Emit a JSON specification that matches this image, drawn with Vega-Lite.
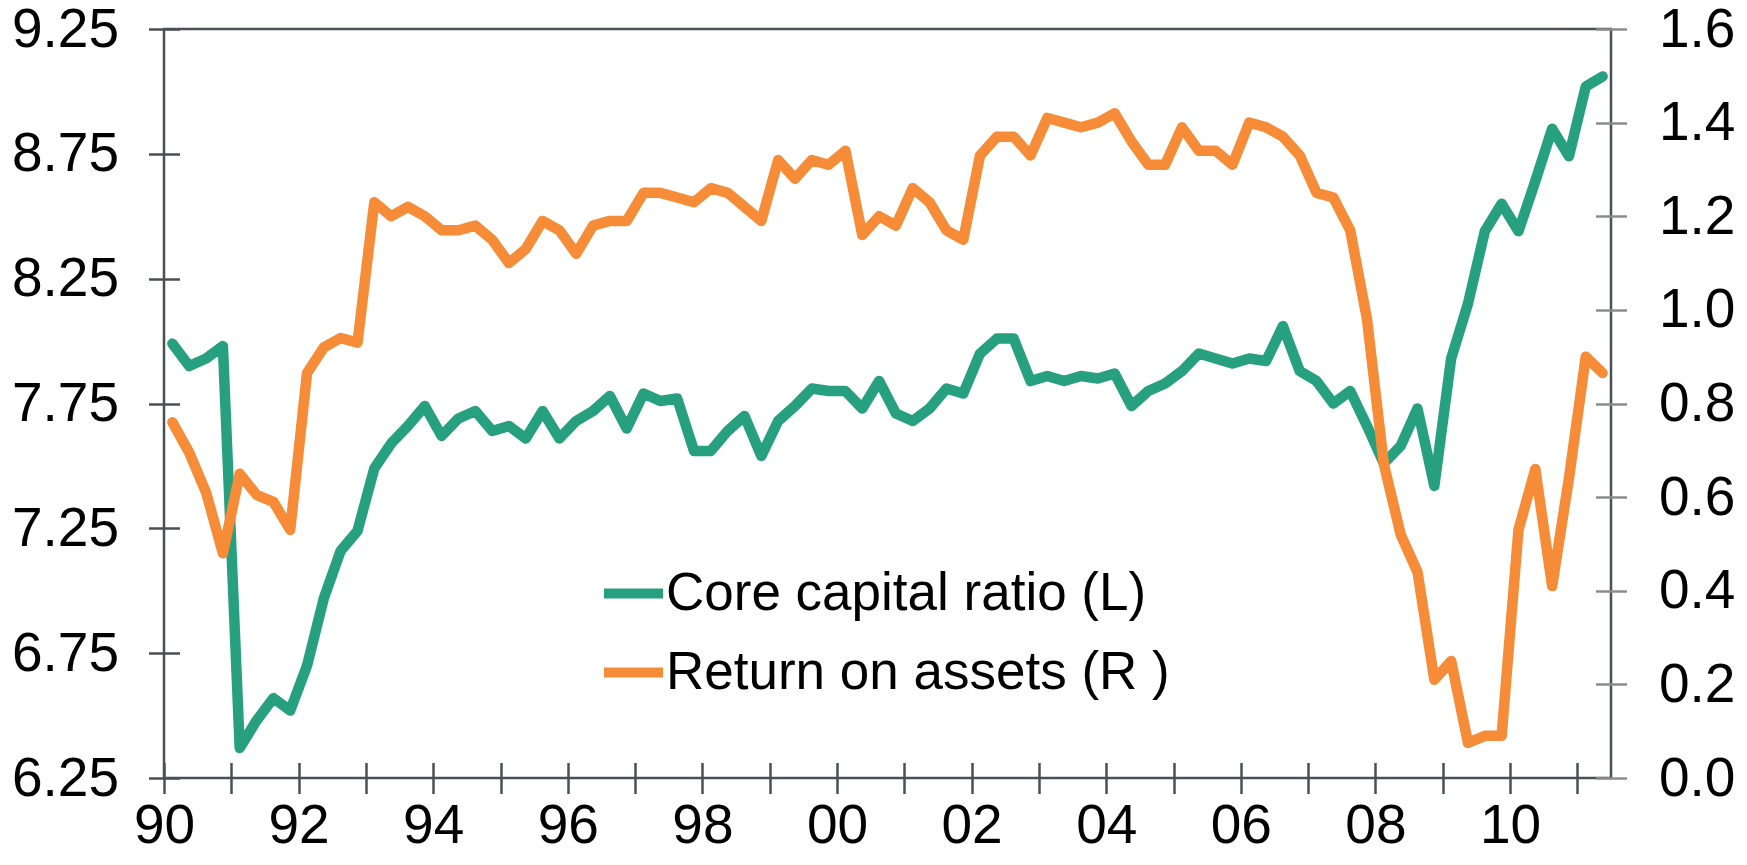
{
  "$schema": "https://vega.github.io/schema/vega-lite/v6.json",
  "width": 1447,
  "height": 749,
  "autosize": {"type": "none"},
  "padding": {"left": 164, "top": 29, "right": 136, "bottom": 87},
  "background": "white",
  "config": {
    "view": {"stroke": "#4b4f55", "strokeWidth": 2.5},
    "font": "Liberation Sans",
    "axis": {
      "grid": false,
      "title": null,
      "labelFont": "Liberation Sans",
      "labelFontSize": 55,
      "labelColor": "#000000",
      "labelFlush": false,
      "labelOverlap": false,
      "labelBound": false,
      "domain": false,
      "tickSize": 31,
      "tickWidth": 2.5,
      "tickColor": "#4b4f55",
      "offset": -15.5
    },
    "legend": {
      "orient": "none",
      "legendX": 435,
      "legendY": 530,
      "direction": "vertical",
      "symbolType": "stroke",
      "symbolSize": 3481,
      "symbolStrokeWidth": 10,
      "labelFontSize": 53,
      "labelFont": "Liberation Sans",
      "labelColor": "#000000",
      "labelLimit": 0,
      "labelOffset": -2,
      "rowPadding": 17,
      "padding": 0,
      "offset": 0
    }
  },
  "data": {
    "values": [
      {"t": 1990.125, "ccr": 7.99, "roa": 0.76},
      {"t": 1990.375, "ccr": 7.90, "roa": 0.695},
      {"t": 1990.625, "ccr": 7.93, "roa": 0.61},
      {"t": 1990.875, "ccr": 7.98, "roa": 0.48},
      {"t": 1991.125, "ccr": 6.37, "roa": 0.65},
      {"t": 1991.375, "ccr": 6.48, "roa": 0.605},
      {"t": 1991.625, "ccr": 6.57, "roa": 0.59},
      {"t": 1991.875, "ccr": 6.52, "roa": 0.53},
      {"t": 1992.125, "ccr": 6.70, "roa": 0.865},
      {"t": 1992.375, "ccr": 6.97, "roa": 0.92},
      {"t": 1992.625, "ccr": 7.16, "roa": 0.94},
      {"t": 1992.875, "ccr": 7.24, "roa": 0.93},
      {"t": 1993.125, "ccr": 7.49, "roa": 1.23},
      {"t": 1993.375, "ccr": 7.59, "roa": 1.20},
      {"t": 1993.625, "ccr": 7.66, "roa": 1.22},
      {"t": 1993.875, "ccr": 7.74, "roa": 1.20},
      {"t": 1994.125, "ccr": 7.62, "roa": 1.17},
      {"t": 1994.375, "ccr": 7.69, "roa": 1.17},
      {"t": 1994.625, "ccr": 7.72, "roa": 1.18},
      {"t": 1994.875, "ccr": 7.64, "roa": 1.15},
      {"t": 1995.125, "ccr": 7.66, "roa": 1.10},
      {"t": 1995.375, "ccr": 7.61, "roa": 1.13},
      {"t": 1995.625, "ccr": 7.72, "roa": 1.19},
      {"t": 1995.875, "ccr": 7.61, "roa": 1.17},
      {"t": 1996.125, "ccr": 7.68, "roa": 1.12},
      {"t": 1996.375, "ccr": 7.72, "roa": 1.18},
      {"t": 1996.625, "ccr": 7.78, "roa": 1.19},
      {"t": 1996.875, "ccr": 7.65, "roa": 1.19},
      {"t": 1997.125, "ccr": 7.79, "roa": 1.25},
      {"t": 1997.375, "ccr": 7.76, "roa": 1.25},
      {"t": 1997.625, "ccr": 7.77, "roa": 1.24},
      {"t": 1997.875, "ccr": 7.56, "roa": 1.23},
      {"t": 1998.125, "ccr": 7.56, "roa": 1.26},
      {"t": 1998.375, "ccr": 7.64, "roa": 1.25},
      {"t": 1998.625, "ccr": 7.70, "roa": 1.22},
      {"t": 1998.875, "ccr": 7.54, "roa": 1.19},
      {"t": 1999.125, "ccr": 7.68, "roa": 1.32},
      {"t": 1999.375, "ccr": 7.74, "roa": 1.28},
      {"t": 1999.625, "ccr": 7.81, "roa": 1.32},
      {"t": 1999.875, "ccr": 7.80, "roa": 1.31},
      {"t": 2000.125, "ccr": 7.80, "roa": 1.34},
      {"t": 2000.375, "ccr": 7.73, "roa": 1.16},
      {"t": 2000.625, "ccr": 7.84, "roa": 1.20},
      {"t": 2000.875, "ccr": 7.71, "roa": 1.18},
      {"t": 2001.125, "ccr": 7.68, "roa": 1.26},
      {"t": 2001.375, "ccr": 7.73, "roa": 1.23},
      {"t": 2001.625, "ccr": 7.81, "roa": 1.17},
      {"t": 2001.875, "ccr": 7.79, "roa": 1.15},
      {"t": 2002.125, "ccr": 7.95, "roa": 1.33},
      {"t": 2002.375, "ccr": 8.01, "roa": 1.37},
      {"t": 2002.625, "ccr": 8.01, "roa": 1.37},
      {"t": 2002.875, "ccr": 7.84, "roa": 1.33},
      {"t": 2003.125, "ccr": 7.86, "roa": 1.41},
      {"t": 2003.375, "ccr": 7.84, "roa": 1.40},
      {"t": 2003.625, "ccr": 7.86, "roa": 1.39},
      {"t": 2003.875, "ccr": 7.85, "roa": 1.40},
      {"t": 2004.125, "ccr": 7.87, "roa": 1.42},
      {"t": 2004.375, "ccr": 7.74, "roa": 1.36},
      {"t": 2004.625, "ccr": 7.80, "roa": 1.31},
      {"t": 2004.875, "ccr": 7.83, "roa": 1.31},
      {"t": 2005.125, "ccr": 7.88, "roa": 1.39},
      {"t": 2005.375, "ccr": 7.95, "roa": 1.34},
      {"t": 2005.625, "ccr": 7.93, "roa": 1.34},
      {"t": 2005.875, "ccr": 7.91, "roa": 1.31},
      {"t": 2006.125, "ccr": 7.93, "roa": 1.40},
      {"t": 2006.375, "ccr": 7.92, "roa": 1.39},
      {"t": 2006.625, "ccr": 8.06, "roa": 1.37},
      {"t": 2006.875, "ccr": 7.88, "roa": 1.33},
      {"t": 2007.125, "ccr": 7.84, "roa": 1.25},
      {"t": 2007.375, "ccr": 7.75, "roa": 1.24},
      {"t": 2007.625, "ccr": 7.80, "roa": 1.17},
      {"t": 2007.875, "ccr": 7.66, "roa": 0.98},
      {"t": 2008.125, "ccr": 7.51, "roa": 0.67},
      {"t": 2008.375, "ccr": 7.58, "roa": 0.52},
      {"t": 2008.625, "ccr": 7.73, "roa": 0.44},
      {"t": 2008.875, "ccr": 7.42, "roa": 0.21},
      {"t": 2009.125, "ccr": 7.93, "roa": 0.25},
      {"t": 2009.375, "ccr": 8.15, "roa": 0.075},
      {"t": 2009.625, "ccr": 8.44, "roa": 0.09},
      {"t": 2009.875, "ccr": 8.55, "roa": 0.09},
      {"t": 2010.125, "ccr": 8.44, "roa": 0.53},
      {"t": 2010.375, "ccr": 8.64, "roa": 0.66},
      {"t": 2010.625, "ccr": 8.85, "roa": 0.41},
      {"t": 2010.875, "ccr": 8.74, "roa": 0.64},
      {"t": 2011.125, "ccr": 9.02, "roa": 0.90},
      {"t": 2011.375, "ccr": 9.06, "roa": 0.865}
    ]
  },
  "layer": [
    {
      "mark": {"type": "line", "strokeWidth": 10.5, "strokeCap": "round", "strokeJoin": "round"},
      "encoding": {
        "x": {
          "field": "t",
          "type": "quantitative",
          "scale": {"domain": [1990, 2011.5], "nice": false, "zero": false},
          "axis": {
            "values": [1990, 1991, 1992, 1993, 1994, 1995, 1996, 1997, 1998, 1999, 2000, 2001, 2002, 2003, 2004, 2005, 2006, 2007, 2008, 2009, 2010, 2011],
            "labelExpr": "datum.value % 2 == 0 ? substring(toString(datum.value), 2, 4) : ''",
            "labelPadding": 6,
            "labelOffset": 0,
            "labelAlign": "center",
            "labelBaseline": "top"
          }
        },
        "y": {
          "field": "ccr",
          "type": "quantitative",
          "scale": {"domain": [6.25, 9.25], "nice": false, "zero": false},
          "axis": {
            "orient": "left",
            "values": [6.25, 6.75, 7.25, 7.75, 8.25, 8.75, 9.25],
            "format": ".2f",
            "labelPadding": 30
          }
        },
        "color": {
          "datum": "Core capital ratio (L)",
          "type": "nominal",
          "scale": {"domain": ["Core capital ratio (L)", "Return on assets (R )"], "range": ["#27a07f", "#f68b38"]},
          "legend": {"title": null}
        }
      }
    },
    {
      "mark": {"type": "line", "strokeWidth": 10.5, "strokeCap": "round", "strokeJoin": "round"},
      "encoding": {
        "x": {"field": "t", "type": "quantitative"},
        "y": {
          "field": "roa",
          "type": "quantitative",
          "scale": {"domain": [0, 1.6], "nice": false, "zero": false},
          "axis": {
            "orient": "right",
            "values": [0, 0.2, 0.4, 0.6, 0.8, 1.0, 1.2, 1.4, 1.6],
            "format": ".1f",
            "labelPadding": 32,
            "tickColor": "#8c8c8c"
          }
        },
        "color": {"datum": "Return on assets (R )", "type": "nominal"}
      }
    }
  ],
  "resolve": {"scale": {"y": "independent"}, "axis": {"y": "independent"}}
}
